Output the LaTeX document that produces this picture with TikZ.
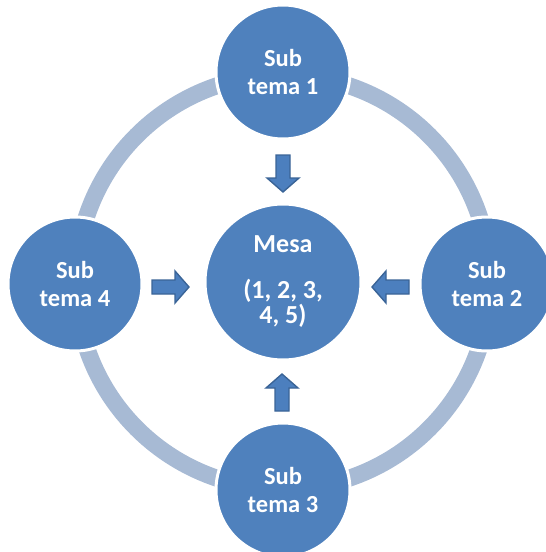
\documentclass[tikz,border=0pt]{standalone}
\usepackage{fontspec}
\setmainfont{Carlito}
\begin{document}
\begin{tikzpicture}[x=1pt,y=-1pt,
  every node/.style={inner sep=0pt,outer sep=0pt},
  ringline/.style={draw=ringcol,line width=17pt},
  subcircle/.style={circle,fill=circcol,draw=white,line width=3pt,minimum size=134pt,
    text=white,align=center,font=\bfseries\fontsize{24.5}{28}\selectfont},
  maincircle/.style={circle,fill=circcol,draw=white,line width=3pt,minimum size=156pt,
    text=white,align=center,font=\bfseries\fontsize{26}{25}\selectfont},
  blockarr/.pic={\draw[fill=arrfill,draw=arrdraw,line width=1.4pt,line join=miter]
    (0,-7)--(23,-7)--(23,-16)--(37,0)--(23,16)--(23,7)--(0,7)--cycle;}
]
\definecolor{ringcol}{HTML}{A7BAD4}
\definecolor{circcol}{HTML}{4F81BD}
\definecolor{arrfill}{HTML}{4C7FBE}
\definecolor{arrdraw}{HTML}{3A6497}
\useasboundingbox (0,0) rectangle (546,552);
\coordinate (c) at (283,282);
\draw[ringline] (c) circle[radius=207];
\node[maincircle] (mesa) at (283,282) {Mesa\\[21pt](1, 2, 3,\\4, 5)};
\node[subcircle] (s1) at (283,72) {Sub\\tema 1};
\node[subcircle] (s2) at (487,284) {Sub\\tema 2};
\node[subcircle] (s3) at (283,490) {Sub\\tema 3};
\node[subcircle] (s4) at (75,284) {Sub\\tema 4};
\pic[rotate=-90] at (283,155) {blockarr};
\pic[rotate=0] at (152,287) {blockarr};
\pic[rotate=180] at (409,287) {blockarr};
\pic[rotate=90] at (282,411) {blockarr};
\end{tikzpicture}
\end{document}
